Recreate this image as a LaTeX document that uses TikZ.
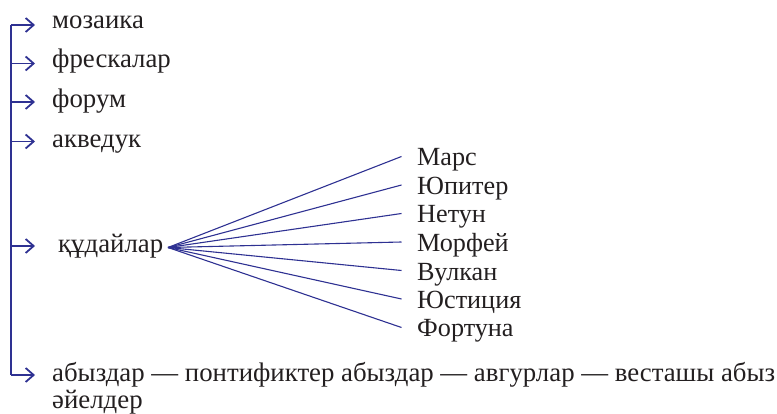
\documentclass[tikz,border=0pt]{standalone}
\usepackage{fontspec}
\setmainfont{Liberation Serif}
\usetikzlibrary{arrows.meta}
\definecolor{lineblue}{RGB}{46,49,146}
\definecolor{txt}{RGB}{35,31,32}
\begin{document}
\begin{tikzpicture}[x=1pt,y=-1pt,
  conn/.style={draw=lineblue,line width=1.3pt},
  arr/.style={conn,-{Straight Barb[length=8pt,width=14pt,line width=1.8pt]}},
  item/.style={anchor=base west,inner sep=0pt,text=txt,font=\rmfamily\fontsize{26.8}{27}\selectfont},
  god/.style={anchor=base west,inner sep=0pt,text=txt,font=\rmfamily\fontsize{26.2}{27}\selectfont}]
\useasboundingbox (0,0) rectangle (777,414);
% list items
\node[item] (t1) at (52,28.5) {мозаика};
\node[item] (t2) at (52,68) {фрескалар};
\node[item] (t3) at (52,108) {форум};
\node[item] (t4) at (52,148) {акведук};
\node[item] (t5) at (58,252.5) {құдайлар};
\node[item,align=left] (t6) at (52,408) {абыздар — понтификтер абыздар — авгурлар — весташы абыз\\әйелдер};
% spine coordinates
\coordinate (s1) at (11,25);
\coordinate (s2) at (11,63.5);
\coordinate (s3) at (11,102);
\coordinate (s4) at (11,141.5);
\coordinate (s5) at (11,246);
\coordinate (s6) at (11,375);
\coordinate (e1) at (35,25);
\coordinate (e2) at (35,63.5);
\coordinate (e3) at (35,102);
\coordinate (e4) at (35,141.5);
\coordinate (e5) at (35,246);
\coordinate (e6) at (35,375);
\draw[conn] (s1) -- (s6);
\draw[arr] (s1) -- (e1);
\draw[arr] (s2) -- (e2);
\draw[arr] (s3) -- (e3);
\draw[arr] (s4) -- (e4);
\draw[arr] (s5) -- (e5);
\draw[arr] (s6) -- (e6);
% gods
\coordinate (hub) at (168,247.5);
\node[god] (g1) at (417,166) {Марс};
\node[god] (g2) at (417,194.5) {Юпитер};
\node[god] (g3) at (417,223) {Нетун};
\node[god] (g4) at (417,251.5) {Морфей};
\node[god] (g5) at (417,280) {Вулкан};
\node[god] (g6) at (417,308.5) {Юстиция};
\node[god] (g7) at (417,337) {Фортуна};
\foreach \i/\y in {1/156.5,2/185,3/213.5,4/242,5/270.5,6/299,7/327.5}{
  \coordinate (f\i) at (401.5,\y);
  \draw[conn,line width=1.1pt] (hub) -- (f\i);
}
\end{tikzpicture}
\end{document}
